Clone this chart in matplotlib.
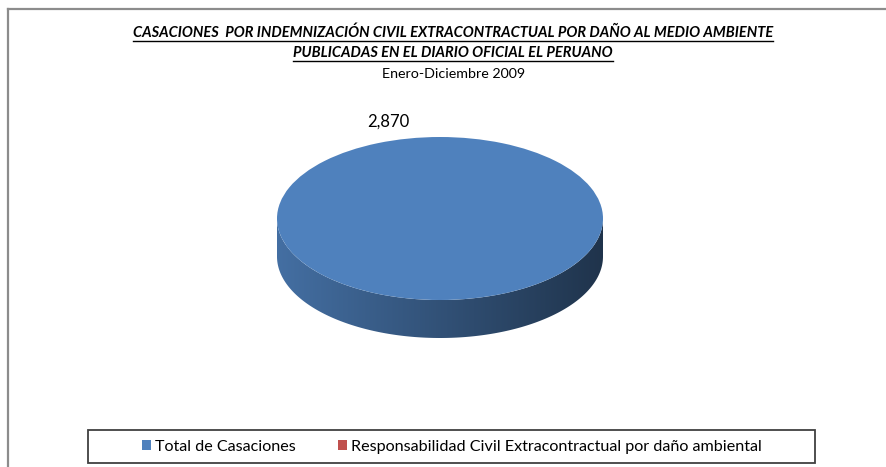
import numpy as np
import matplotlib
matplotlib.use("Agg")
import matplotlib.pyplot as plt
from matplotlib.patches import Polygon, Rectangle
from matplotlib.lines import Line2D
import matplotlib.colors as mcolors

# ---------------- data ----------------
categories = ["Total de Casaciones",
              "Responsabilidad Civil Extracontractual por daño ambiental"]
values = [2870, 0]
colors = ["#4F81BD", "#C0504D"]
title_lines = ["CASACIONES  POR INDEMNIZACIÓN CIVIL EXTRACONTRACTUAL POR DAÑO AL MEDIO AMBIENTE",
               "PUBLICADAS EN EL DIARIO OFICIAL EL PERUANO"]
subtitle = "Enero-Diciembre 2009"

plt.rcParams['font.family'] = ['Lato', 'DejaVu Sans']

W, H = 886, 467
fig = plt.figure(figsize=(W / 100, H / 100), dpi=100)
fig.patch.set_facecolor("white")

def fx(px):
    return px / W

def fy(py):
    return 1 - py / H

# outer chart border (left and top visible)
fig.add_artist(Line2D([fx(8), fx(8)], [fy(9), 0], color="#8c8c8c", lw=1.6,
                      transform=fig.transFigure))
fig.add_artist(Line2D([fx(8), 1], [fy(9), fy(9)], color="#8c8c8c", lw=1.6,
                      transform=fig.transFigure))

# ---------------- pie (3D look) ----------------
x0, x1 = 277, 603
top, bot = 137, 338
ry_px = 81.5
depth = (bot - top - 2 * ry_px) / ry_px

ax = fig.add_axes([fx(x0), fy(bot), (x1 - x0) / W, (bot - top) / H])
wedges, _ = ax.pie(values, colors=colors, startangle=90, counterclock=False,
                   radius=1, wedgeprops=dict(linewidth=0), normalize=True)
for w in wedges:
    w.set_zorder(3)
ax.set_aspect("auto")
ax.axis("off")

# side wall with horizontal shading gradient
grad_x = np.linspace(-1, 1, 400)
shade = 0.86 - 0.46 * (grad_x + 1) / 2
for w, col in zip(wedges, colors):
    t1, t2 = w.theta1, w.theta2
    if t2 - t1 <= 0:
        continue
    for k in range(-2, 3):
        a = max(t1 + 360 * k, 180)
        b = min(t2 + 360 * k, 360)
        if b <= a:
            continue
        th = np.radians(np.linspace(a, b, 200))
        xs = np.cos(th)
        ys = np.sin(th)
        verts = np.concatenate([np.column_stack([xs, ys]),
                                np.column_stack([xs[::-1], ys[::-1] - depth])])
        poly = Polygon(verts, closed=True, facecolor="none", edgecolor="none")
        ax.add_patch(poly)
        rgb = np.array(mcolors.to_rgb(col))
        img = (shade[None, :, None] * rgb[None, None, :])
        im = ax.imshow(img, extent=(-1, 1, -1 - depth, 1), aspect="auto",
                       origin="lower", zorder=2, interpolation="bilinear")
        im.set_clip_path(poly)
ax.set_xlim(-1, 1)
ax.set_ylim(-1 - depth, 1)

# data label
ax.text(-0.32, 1.19, f"{values[0]:,}", fontsize=12, ha="center", va="center",
        color="black", clip_on=False)

# ---------------- titles ----------------
fig.canvas.draw()
renderer = fig.canvas.get_renderer()
for line, ypx in zip(title_lines, [33, 53]):
    t = fig.text(fx(453), fy(ypx), line, ha="center", va="center", fontsize=10.55,
                 fontweight="bold", fontstyle="italic")
    bb = t.get_window_extent(renderer=renderer)
    uy = bb.y0 - 1
    fig.add_artist(Line2D([bb.x0 / fig.bbox.width, bb.x1 / fig.bbox.width],
                          [uy / fig.bbox.height, uy / fig.bbox.height],
                          color="black", lw=1.0, transform=fig.transFigure))
fig.text(fx(454), fy(74), subtitle, ha="center", va="center", fontsize=10.3)

# ---------------- legend ----------------
fig.add_artist(Rectangle((fx(88), fy(463)), (815 - 88) / W, (463 - 430) / H,
                         transform=fig.transFigure, facecolor="none",
                         edgecolor="#404040", lw=1.3))
for w, cat, xpx in zip(wedges, categories, [142, 338]):
    fig.legend([w], [cat], loc="center left",
               bbox_to_anchor=(fx(xpx), fy(447)), frameon=False, borderpad=0,
               borderaxespad=0, fontsize=11.6, handlelength=0.55,
               handleheight=0.55, handletextpad=0.25)

fig.savefig("out.png", dpi=100, facecolor="white")
